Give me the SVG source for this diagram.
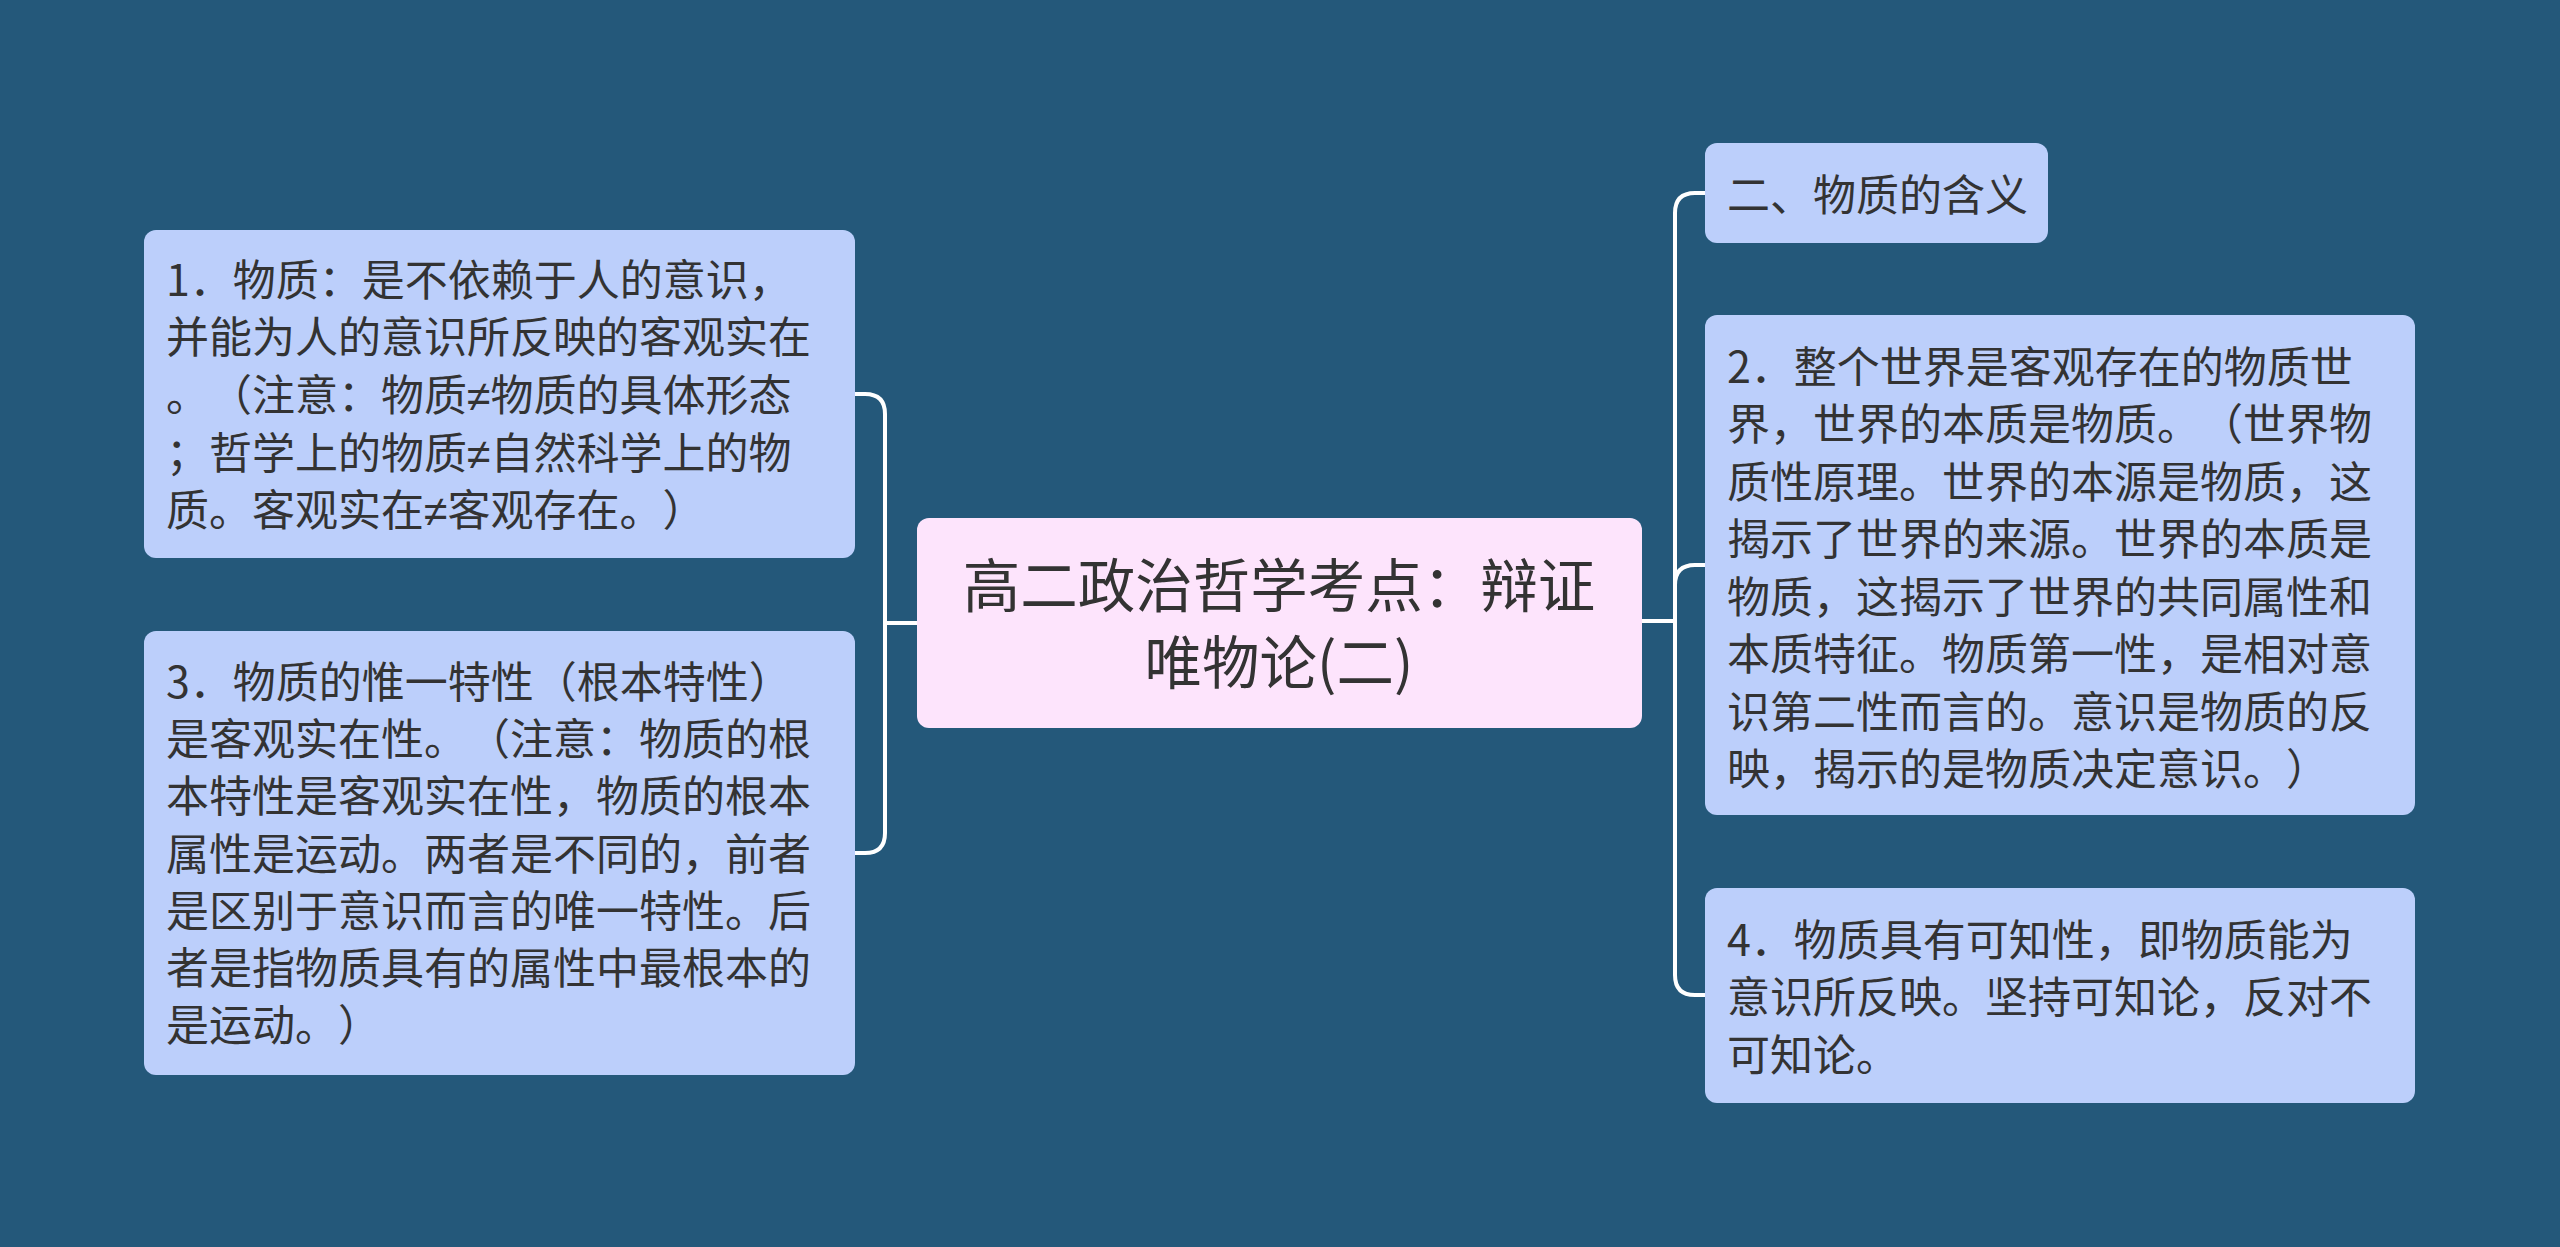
<svg xmlns="http://www.w3.org/2000/svg" width="2560" height="1247" viewBox="0 0 2560 1247">
<style>
.bg{fill:#24587a}
.n{fill:#bccffb}
.c{fill:#fde4fc}
text{text-spacing-trim:space-all}
.t{font-family:"Noto Sans CJK SC","Noto Sans",sans-serif;font-size:43px;fill:#333333}
.ne{font-family:"Liberation Sans","Noto Sans CJK SC",sans-serif}
.ct{font-family:"Noto Sans CJK SC","Noto Sans",sans-serif;font-size:57.5px;fill:#333333;text-anchor:middle}
.l{fill:none;stroke:#ffffff;stroke-width:4;stroke-linecap:round}
</style>
<rect class="bg" x="0" y="0" width="2560" height="1247"/>
<g id="connectors">
<path class="l" d="M855,394 H865 Q885,394 885,414 V833 Q885,853 865,853 H855"/>
<path class="l" d="M885,623 H917"/>
<path class="l" d="M1642,621 H1675"/>
<path class="l" d="M1705,193 H1695 Q1675,193 1675,213 V975 Q1675,995 1695,995 H1705"/>
<path class="l" d="M1675,585 Q1675,565 1695,565 H1705"/>
</g>
<g id="center">
<rect class="c" x="917" y="518" width="725" height="210" rx="12"/>
<text class="ct" x="1279" y="607">高二政治哲学考点：辩证</text>
<text class="ct" x="1279" y="684">唯物论(二)</text>
</g>
<g id="node1">
<rect class="n" x="144" y="230" width="711" height="328" rx="12"/>
<text class="t" x="166" y="296">1．物质：是不依赖于人的意识，</text>
<text class="t" x="166" y="353">并能为人的意识所反映的客观实在</text>
<text class="t" x="166" y="411">。（注意：物质<tspan class="ne">≠</tspan>物质的具体形态</text>
<text class="t" x="166" y="469">；哲学上的物质<tspan class="ne">≠</tspan>自然科学上的物</text>
<text class="t" x="166" y="526">质。客观实在<tspan class="ne">≠</tspan>客观存在。）</text>
</g>
<g id="node3">
<rect class="n" x="144" y="631" width="711" height="444" rx="12"/>
<text class="t" x="166" y="698">3．物质的惟一特性（根本特性）</text>
<text class="t" x="166" y="755">是客观实在性。（注意：物质的根</text>
<text class="t" x="166" y="812">本特性是客观实在性，物质的根本</text>
<text class="t" x="166" y="870">属性是运动。两者是不同的，前者</text>
<text class="t" x="166" y="927">是区别于意识而言的唯一特性。后</text>
<text class="t" x="166" y="984">者是指物质具有的属性中最根本的</text>
<text class="t" x="166" y="1041">是运动。）</text>
</g>
<g id="node-title2">
<rect class="n" x="1705" y="143" width="343" height="100" rx="12"/>
<text class="t" x="1727" y="211">二、物质的含义</text>
</g>
<g id="node2">
<rect class="n" x="1705" y="315" width="710" height="500" rx="12"/>
<text class="t" x="1727" y="383">2．整个世界是客观存在的物质世</text>
<text class="t" x="1727" y="440">界，世界的本质是物质。（世界物</text>
<text class="t" x="1727" y="498">质性原理。世界的本源是物质，这</text>
<text class="t" x="1727" y="555">揭示了世界的来源。世界的本质是</text>
<text class="t" x="1727" y="613">物质，这揭示了世界的共同属性和</text>
<text class="t" x="1727" y="670">本质特征。物质第一性，是相对意</text>
<text class="t" x="1727" y="728">识第二性而言的。意识是物质的反</text>
<text class="t" x="1727" y="785">映，揭示的是物质决定意识。）</text>
</g>
<g id="node4">
<rect class="n" x="1705" y="888" width="710" height="215" rx="12"/>
<text class="t" x="1727" y="956">4．物质具有可知性，即物质能为</text>
<text class="t" x="1727" y="1013">意识所反映。坚持可知论，反对不</text>
<text class="t" x="1727" y="1071">可知论。</text>
</g>
</svg>
